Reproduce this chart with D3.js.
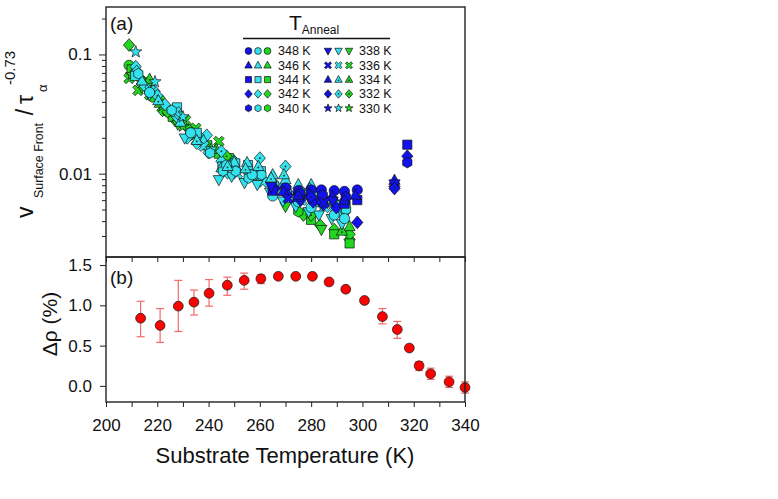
<!DOCTYPE html>
<html>
<head>
<meta charset="utf-8">
<script src="https://cdn.jsdelivr.net/npm/d3@7"></script>
<style>
body { margin: 0; background: #fff; }
text { font-family: Arial, "Liberation Sans", sans-serif; fill: #111; }
</style>
</head>
<body>
<script>

//anneal temperatures and the symbol drawn for each one
var annealTemps = [348, 346, 344, 342, 340, 338, 336, 334, 332, 330];
var annealShapes = ["circle", "triUp", "square", "diamond", "hexagon", "triDown", "cross", "triUpDot", "diamondDot", "star"];

//three colour sets per anneal temperature
var colorNames = ["blue", "cyan", "green"];
var colorFills = ["#1212ec", "#33e2ec", "#22d622"];

//panel (a) points: [T anneal, substrate T (K), v / tau^-0.73]
var bluePoints = [
    [348, 270, 0.0076], [348, 275, 0.0072], [348, 280, 0.0073], [348, 284, 0.0073], [348, 289, 0.0072], [348, 293, 0.0071], [348, 298, 0.0073],
    [342, 265.8, 0.0075], [342, 270.8, 0.0066], [342, 275.8, 0.0060], [342, 280.8, 0.0058], [342, 284.8, 0.0055], [342, 289.8, 0.0052], [342, 298, 0.0039], [342, 312.5, 0.0078], [342, 317.5, 0.0140],
    [344, 265, 0.0072], [344, 275, 0.0064], [344, 284, 0.0060], [344, 293, 0.0056], [344, 298, 0.0060], [344, 317.5, 0.0175],
    [346, 269.2, 0.0071], [346, 279.2, 0.0068], [346, 288.2, 0.0065], [346, 297.2, 0.0066], [346, 312.5, 0.0088],
    [340, 275.5, 0.0069], [340, 284.5, 0.0066], [340, 293.5, 0.0064], [340, 317.5, 0.0124],
    [338, 264.4, 0.0078], [338, 279.4, 0.0062], [338, 288.4, 0.0059], [338, 312.5, 0.0082],
    [336, 271, 0.0062], [336, 285, 0.0057],
    [332, 280, 0.0064], [332, 312.5, 0.0075],
    [334, 275, 0.0066], [334, 293, 0.0060]
];

var greenPoints = [
    [342, 209, 0.120], [342, 213, 0.064], [342, 217, 0.052], [342, 222, 0.034], [342, 227, 0.028], [342, 232, 0.024], [342, 277, 0.0045], [342, 283.5, 0.0037], [342, 289, 0.0034], [342, 295, 0.0028], [342, 295, 0.0031],
    [336, 209, 0.063], [336, 212.5, 0.050], [336, 217, 0.046], [336, 224, 0.034], [336, 231, 0.028], [336, 235, 0.024], [336, 244, 0.0186],
    [348, 209, 0.081], [348, 212, 0.070], [348, 216, 0.058], [348, 221, 0.042], [348, 226, 0.031], [348, 233, 0.022],
    [344, 210, 0.075], [344, 217, 0.050], [344, 226, 0.030], [344, 239.5, 0.0173], [344, 244, 0.0147], [344, 248, 0.0135], [344, 280, 0.0041], [344, 289, 0.0031], [344, 295, 0.0026],
    [330, 210, 0.068], [330, 215, 0.058], [330, 222, 0.037], [330, 230, 0.025],
    [346, 217, 0.062], [346, 225, 0.033], [346, 241, 0.016], [346, 295, 0.0036],
    [338, 214, 0.053], [338, 228, 0.026], [338, 237, 0.019], [338, 246, 0.0135], [338, 270, 0.0053], [338, 284, 0.0034],
    [340, 218, 0.044], [340, 233, 0.021], [340, 250, 0.0115], [340, 275, 0.0048],
    [334, 221, 0.039], [334, 243, 0.016], [334, 292, 0.0033],
    [332, 224, 0.033], [332, 247, 0.014], [332, 280, 0.0045]
];

var cyanPoints = [
    [342, 211.6, 0.079], [342, 215.2, 0.054], [342, 219, 0.049], [342, 223, 0.038], [342, 227.6, 0.030], [342, 231.7, 0.020], [342, 235.4, 0.018], [342, 239.3, 0.021], [342, 240, 0.015], [342, 245, 0.0127], [342, 250, 0.0112], [342, 255, 0.0105], [342, 260, 0.0093], [342, 265, 0.0085], [342, 270, 0.0078], [342, 275, 0.0068], [342, 280, 0.0062], [342, 284, 0.0056], [342, 289, 0.0052], [342, 293, 0.0047],
    [332, 212, 0.072], [332, 220, 0.045], [332, 228, 0.032], [332, 236, 0.021], [332, 245, 0.0154], [332, 250, 0.0127], [332, 260, 0.0135], [332, 270, 0.0115], [332, 280, 0.0072], [332, 289, 0.0058],
    [344, 211.4, 0.066], [344, 227.7, 0.036], [344, 235.4, 0.022], [344, 245.4, 0.0115], [344, 250.4, 0.0122], [344, 255.4, 0.0118], [344, 260.4, 0.0105], [344, 270.4, 0.0072], [344, 275.4, 0.0062], [344, 284.4, 0.0062], [344, 293.4, 0.0055],
    [346, 214, 0.060], [346, 229, 0.027], [346, 238, 0.019], [346, 245, 0.0112], [346, 250, 0.0125], [346, 255, 0.0124], [346, 260, 0.0089], [346, 265, 0.0098], [346, 270, 0.0089], [346, 275, 0.0081], [346, 280, 0.0081], [346, 284, 0.0068], [346, 289, 0.0060], [346, 293, 0.0062],
    [330, 211.6, 0.105], [330, 219.1, 0.059], [330, 230, 0.030],
    [336, 217.2, 0.050], [336, 227.2, 0.033], [336, 238.2, 0.017], [336, 246.2, 0.0100], [336, 251.2, 0.0100], [336, 256.2, 0.0095], [336, 261.2, 0.0085], [336, 266.2, 0.0075], [336, 271.2, 0.0065], [336, 276.2, 0.0060], [336, 281.2, 0.0058], [336, 285.2, 0.0052], [336, 290.2, 0.0048],
    [338, 217, 0.046], [338, 230.7, 0.0199], [338, 241, 0.0155], [338, 244, 0.0089], [338, 249, 0.0095], [338, 254, 0.0084], [338, 259, 0.0081], [338, 264, 0.0070], [338, 269, 0.0059], [338, 274, 0.0053], [338, 279, 0.0048], [338, 283, 0.0045], [338, 288, 0.0042], [338, 292, 0.0038],
    [340, 212.6, 0.069], [340, 225.6, 0.034], [340, 240.6, 0.0149], [340, 245.6, 0.0105], [340, 250.6, 0.0105], [340, 255.6, 0.0092], [340, 260.6, 0.0098], [340, 265.6, 0.0081], [340, 270.6, 0.0069], [340, 275.6, 0.0072], [340, 280.6, 0.0066], [340, 284.6, 0.0059], [340, 289.6, 0.0055], [340, 293.6, 0.0050],
    [348, 217, 0.048], [348, 233, 0.022], [348, 247, 0.0118], [348, 257, 0.0098], [348, 265, 0.0065], [348, 275, 0.0058], [348, 280, 0.0052], [348, 289, 0.0045], [348, 293, 0.0042],
    [334, 220.4, 0.041], [334, 235.4, 0.019], [334, 247.4, 0.0115], [334, 254.4, 0.0110], [334, 259.4, 0.0115], [334, 264.4, 0.0092], [334, 269.4, 0.0098], [334, 279.4, 0.0075], [334, 288.4, 0.0065]
];

//panel (b): density change vs substrate temperature
var rhoTemps = [213.5, 221.1, 228.2, 234.3, 240.2, 247.3, 253.9, 260.4, 267.2, 274.0, 280.5, 287.0, 293.5, 300.8, 307.8, 313.6, 318.3, 322.1, 326.6, 333.8, 340.0];
var rhoValues = [0.84, 0.75, 0.99, 1.04, 1.15, 1.25, 1.31, 1.33, 1.36, 1.36, 1.36, 1.29, 1.20, 1.06, 0.86, 0.70, 0.47, 0.25, 0.15, 0.05, -0.02];
var rhoHigh = [1.05, 0.96, 1.31, 1.19, 1.32, 1.35, 1.40, 1.38, 1.38, 1.38, 1.38, 1.31, 1.22, 1.08, 0.96, 0.80, 0.49, 0.30, 0.22, 0.12, 0.05];
var rhoLow = [0.61, 0.54, 0.675, 0.88, 0.99, 1.125, 1.20, 1.27, 1.34, 1.34, 1.34, 1.27, 1.18, 1.04, 0.77, 0.59, 0.45, 0.19, 0.08, -0.02, -0.09];

//tick values
var xTicks = d3.range(200, 341, 10);
var yaMajor = [0.01, 0.1];
var yaMinor = [0.003, 0.004, 0.005, 0.006, 0.007, 0.008, 0.009, 0.02, 0.03, 0.04, 0.05, 0.06, 0.07, 0.08, 0.09, 0.2];
var ybTicks = [0, 0.5, 1.0, 1.5];

var width = 778,
    height = 499;

var svg = d3.select("body")
    .append("svg")
    .attr("width", width)
    .attr("height", height);

//scales, both panels share x
var x = d3.scaleLinear().domain([200, 340]).range([106, 465]);
var yA = d3.scaleLog().domain([0.002, 0.25]).range([257, 7]);
var yB = d3.scaleLinear().domain([-0.2, 1.6]).range([402, 257]);

//build a symbol outline of half size r
function shapePath(shape, r){
    var p = d3.path();
    function poly(pts){
        p.moveTo(pts[0][0], pts[0][1]);
        for (var i=1; i<pts.length; i++) p.lineTo(pts[i][0], pts[i][1]);
        p.closePath();
    }
    if (shape == "circle"){
        p.arc(0, 0, r, 0, 2 * Math.PI);
    } else if (shape == "square"){
        var s = r * 0.9;
        p.rect(-s, -s, 2 * s, 2 * s);
    } else if (shape == "triUp" || shape == "triUpDot"){
        poly([[0, -1.2 * r], [1.1 * r, 0.8 * r], [-1.1 * r, 0.8 * r]]);
    } else if (shape == "triDown"){
        poly([[0, 1.2 * r], [1.1 * r, -0.8 * r], [-1.1 * r, -0.8 * r]]);
    } else if (shape == "diamond" || shape == "diamondDot"){
        poly([[0, -1.25 * r], [1.1 * r, 0], [0, 1.25 * r], [-1.1 * r, 0]]);
    } else if (shape == "hexagon"){
        var h = [];
        for (var i=0; i<6; i++) h.push([r * 1.05 * Math.cos(i * Math.PI / 3 + Math.PI / 6), r * 1.05 * Math.sin(i * Math.PI / 3 + Math.PI / 6)]);
        poly(h);
    } else if (shape == "cross"){
        var a = 0.32 * r, l = 1.15 * r;
        var plus = [[-a, -l], [a, -l], [a, -a], [l, -a], [l, a], [a, a], [a, l], [-a, l], [-a, a], [-l, a], [-l, -a], [-a, -a]];
        poly(plus.map(function(q){ return [(q[0] - q[1]) / Math.SQRT2, (q[0] + q[1]) / Math.SQRT2]; }));
    } else if (shape == "star"){
        var st = [];
        for (var j=0; j<10; j++){
            var rr = j % 2 == 0 ? 1.25 * r : 0.5 * r;
            var ang = -Math.PI / 2 + j * Math.PI / 5;
            st.push([rr * Math.cos(ang), rr * Math.sin(ang)]);
        }
        poly(st);
    }
    return p.toString();
}

//draw one marker at screen position px, py
function drawMarker(g, anneal, colorIndex, px, py, r){
    var shape = annealShapes[annealTemps.indexOf(anneal)];
    var fill = colorFills[colorIndex];
    g.append("path")
        .attr("d", shapePath(shape, r))
        .attr("transform", "translate(" + px + "," + py + ")")
        .attr("fill", fill)
        .attr("stroke", "#111")
        .attr("stroke-width", 0.7);
    if (shape == "triUpDot" || shape == "diamondDot"){
        g.append("circle")
            .attr("cx", px)
            .attr("cy", py + (shape == "triUpDot" ? 0.2 * r : 0))
            .attr("r", Math.max(0.8, r * 0.17))
            .attr("fill", "#222");
    }
}

//panel (a) markers
var gA = svg.append("g");
[[greenPoints, 2], [cyanPoints, 1], [bluePoints, 0]].forEach(function(set){
    set[0].forEach(function(d){
        drawMarker(gA, d[0], set[1], x(d[1]), yA(d[2]), 5.1);
    });
});

//panel (b) error bars and markers
var gB = svg.append("g");
rhoTemps.forEach(function(t, i){
    var cx = x(t);
    gB.append("line").attr("x1", cx).attr("x2", cx).attr("y1", yB(rhoLow[i])).attr("y2", yB(rhoHigh[i]))
        .attr("stroke", "#f26a6a").attr("stroke-width", 1.2);
    [rhoLow[i], rhoHigh[i]].forEach(function(v){
        gB.append("line").attr("x1", cx - 4).attr("x2", cx + 4).attr("y1", yB(v)).attr("y2", yB(v))
            .attr("stroke", "#f26a6a").attr("stroke-width", 1.2);
    });
});
gB.selectAll(".rho")
    .data(rhoTemps)
    .enter()
    .append("circle")
    .attr("class", "rho")
    .attr("cx", function(d){ return x(d); })
    .attr("cy", function(d, i){ return yB(rhoValues[i]); })
    .attr("r", 4.9)
    .attr("fill", "#ff0000")
    .attr("stroke", "#222")
    .attr("stroke-width", 0.8);

//axes
function styleAxis(g){
    g.select(".domain").remove();
    g.selectAll("line").attr("stroke", "#222").attr("stroke-width", 1);
    g.selectAll("text").style("font-size", "17px").style("font-family", "Arial, 'Liberation Sans', sans-serif").attr("fill", "#111");
}

svg.append("g")
    .attr("transform", "translate(106,0)")
    .call(d3.axisLeft(yA).tickValues(yaMajor).tickSize(7).tickPadding(7).tickFormat(function(d){ return String(d); }))
    .call(styleAxis);
svg.append("g")
    .attr("transform", "translate(106,0)")
    .call(d3.axisLeft(yA).tickValues(yaMinor).tickSize(4).tickFormat(""))
    .call(styleAxis);

svg.append("g")
    .attr("transform", "translate(106,0)")
    .call(d3.axisLeft(yB).tickValues(ybTicks).tickSize(6).tickPadding(8).tickFormat(d3.format(".1f")))
    .call(styleAxis);

svg.append("g")
    .attr("transform", "translate(0,257)")
    .call(d3.axisBottom(x).tickValues(xTicks).tickSize(5).tickFormat(""))
    .call(styleAxis);

svg.append("g")
    .attr("transform", "translate(0,402)")
    .call(d3.axisBottom(x).tickValues(xTicks).tickSize(5).tickPadding(12)
        .tickFormat(function(d){ return d % 20 == 0 ? d : ""; }))
    .call(styleAxis);

//panel frames
svg.append("rect").attr("x", 106).attr("y", 7).attr("width", 359).attr("height", 250)
    .attr("fill", "none").attr("stroke", "#222").attr("stroke-width", 1.4);
svg.append("rect").attr("x", 106).attr("y", 257).attr("width", 359).attr("height", 145)
    .attr("fill", "none").attr("stroke", "#222").attr("stroke-width", 1.4);

//panel labels
svg.append("text").attr("x", 110).attr("y", 30).style("font-size", "19px").text("(a)");
svg.append("text").attr("x", 110).attr("y", 284).style("font-size", "19px").text("(b)");

//axis titles
svg.append("text")
    .attr("x", 285).attr("y", 463)
    .attr("text-anchor", "middle")
    .style("font-size", "22px")
    .text("Substrate Temperature (K)");

svg.append("text")
    .attr("transform", "translate(57,324) rotate(-90)")
    .attr("text-anchor", "middle")
    .style("font-size", "21px")
    .text("\u0394\u03c1 (%)");

//panel (a) y title, pieces placed along the rotated baseline
function yPiece(bx, by, size, str, anchor){
    svg.append("text")
        .attr("transform", "translate(" + bx + "," + by + ") rotate(-90)")
        .attr("text-anchor", anchor || "start")
        .style("font-size", size + "px")
        .text(str);
}
yPiece(33, 218, 23, "v");
yPiece(43, 198, 12.4, "Surface Front");
yPiece(33, 112, 23, "/", "middle");
yPiece(33, 104, 23, "\u03c4");
yPiece(47, 92, 13, "\u03b1");
yPiece(15, 85, 15, "-0.73");

//legend
var legTitle = svg.append("text").attr("x", 289).attr("y", 30).style("font-size", "21px");
legTitle.append("tspan").text("T");
legTitle.append("tspan").attr("dy", 4).style("font-size", "12px").text("Anneal");
svg.append("line").attr("x1", 243).attr("x2", 390).attr("y1", 38.5).attr("y2", 38.5)
    .attr("stroke", "#111").attr("stroke-width", 1.5);

var gL = svg.append("g");
annealTemps.forEach(function(t, i){
    var col = i < 5 ? 0 : 1,
        row = i % 5;
    var cy = 51 + row * 14.3;
    var sx = col == 0 ? [248.5, 258, 267.5] : [328, 338.5, 349];
    var tx = col == 0 ? 278 : 359;
    colorNames.forEach(function(c, k){
        drawMarker(gL, t, k, sx[k], cy, 3.4);
    });
    gL.append("text").attr("x", tx).attr("y", cy + 4.3).style("font-size", "12.5px").text(t + " K");
});

</script>
</body>
</html>
